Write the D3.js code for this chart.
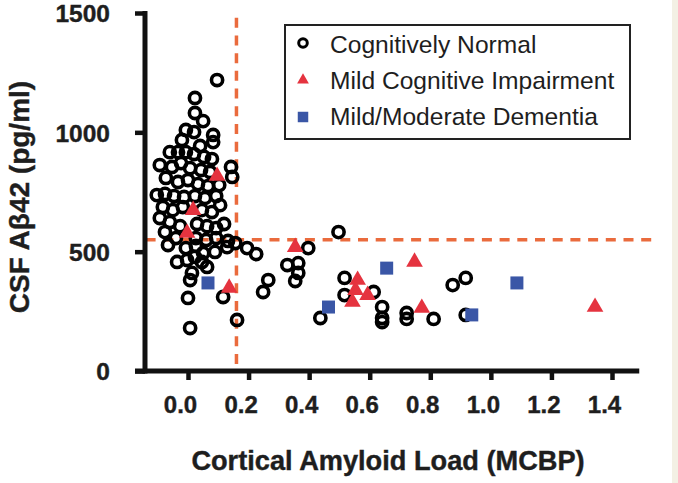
<!DOCTYPE html>
<html>
<head>
<meta charset="utf-8">
<script src="https://cdn.jsdelivr.net/npm/d3@7"></script>
<style>
  html, body { margin: 0; padding: 0; background: #ffffff; }
  svg { display: block; font-family: "Liberation Sans", Arial, sans-serif; }
</style>
</head>
<body>
<svg id="chart" width="678" height="483"></svg>
<script>
// ---- data ----
const xTicks = [0.0, 0.2, 0.4, 0.6, 0.8, 1.0, 1.2, 1.4];
const yTicks = [0, 500, 1000, 1500];
const legendLabels = ["Cognitively Normal", "Mild Cognitive Impairment", "Mild/Moderate Dementia"];
const cutoffX = 0.16;
const cutoffY = 550;

// Cognitively Normal: [MCBP, CSF Abeta42]
const normalX = [0.096,0.023,0.023,0.050,-0.007,0.020,0.083,0.083,-0.020,-0.060,-0.033,-0.007,0.020,0.053,0.079,0.142,0.146,0.040,
  -0.093,-0.053,-0.023,0.007,0.043,0.073,-0.073,-0.033,0.000,0.033,0.066,0.103,-0.103,-0.076,-0.046,-0.013,0.023,0.056,0.093,
  -0.083,-0.050,-0.017,0.046,0.079,0.106,-0.060,-0.026,0.030,0.063,0.093,0.119,-0.040,0.026,0.060,0.093,0.132,0.195,0.225,
  -0.036,-0.003,0.023,0.046,0.063,0.050,0.089,0.129,0.156,0.013,0.007,0.000,0.116,0.162,0.007,-0.076,-0.093,
  -0.066,-0.007,0.026,
  0.265,0.248,0.328,0.364,0.364,0.354,0.397,0.497,0.437,0.517,0.517,0.613,0.641,0.641,0.641,0.722,0.722,0.811,0.874,0.917,0.917];
const normalY = [1219,1144,1081,1047,1010,1001,989,959,968,917,917,917,909,897,888,855,813,943,
  863,855,871,850,842,834,809,792,800,783,775,779,737,742,733,729,733,725,733,
  687,674,687,674,666,695,624,607,616,607,599,616,557,557,549,557,545,515,490,
  457,465,478,457,436,494,499,519,536,411,381,306,310,214,180,582,641,
  528,515,524,
  381,331,444,452,411,377,515,582,222,390,318,331,268,222,205,243,218,218,360,390,235];

// Mild Cognitive Impairment
const mciX = [0.096,0.017,-0.003,0.136,0.354,0.560,0.553,0.543,0.593,0.748,0.772,1.344];
const mciY = [817,674,578,348,519,381,339,289,318,457,264,268];

// Mild/Moderate Dementia
const demX = [0.066,0.464,0.656,0.937,1.086];
const demY = [369,268,431,235,369];

// ---- drawing ----
const svg = d3.select("#chart");
const W = 678, H = 483;
svg.append("rect").attr("width", W).attr("height", H).attr("fill", "#ffffff");
svg.append("rect").attr("x", 672).attr("y", 0).attr("width", 6).attr("height", H).attr("fill", "#f3f0e4");

const x = d3.scaleLinear().domain([0, 1.4]).range([188, 612]);
const y = d3.scaleLinear().domain([0, 1500]).range([371, 13]);

const axisColor = "#111";
const textColor = "#1e1e1e";
const dashColor = "#ea6b3d";
const red = "#e5333f";
const blue = "#3a56a6";

// dashed cutoff lines
svg.append("line")
  .attr("x1", x(-0.14)).attr("x2", x(1.543))
  .attr("y1", y(cutoffY)).attr("y2", y(cutoffY))
  .attr("stroke", dashColor).attr("stroke-width", 3.5).attr("stroke-dasharray", "10,7.7");
svg.append("line")
  .attr("x1", x(cutoffX)).attr("x2", x(cutoffX))
  .attr("y1", y(1480)).attr("y2", y(0))
  .attr("stroke", dashColor).attr("stroke-width", 3.5).attr("stroke-dasharray", "10,7.7");

// axes
const yAxisX = x(-0.142);
const gy = svg.append("g").attr("transform", `translate(${yAxisX},0)`)
  .call(d3.axisLeft(y).tickValues(yTicks).tickSize(10).tickSizeOuter(0).tickPadding(25).tickFormat(d3.format("d")));
gy.select(".domain").remove();
gy.selectAll(".tick line").attr("stroke", axisColor).attr("stroke-width", 4.5);
gy.selectAll(".tick text").attr("font-size", 24.5).attr("font-weight", "bold").attr("fill", textColor)
  .attr("font-family", "Liberation Sans, Arial, sans-serif").attr("dy", "0.36em")
  .attr("stroke", textColor).attr("stroke-width", 0.4);
svg.append("line").attr("x1", yAxisX).attr("x2", yAxisX).attr("y1", y(1500) - 2).attr("y2", y(0) + 2.5)
  .attr("stroke", axisColor).attr("stroke-width", 5);

const gx = svg.append("g").attr("transform", `translate(0,${y(0)})`)
  .call(d3.axisBottom(x).tickValues(xTicks).tickSize(9).tickSizeOuter(0).tickFormat(d3.format(".1f")));
gx.select(".domain").remove();
gx.selectAll(".tick line").attr("stroke", axisColor).attr("stroke-width", 4.5);
gx.selectAll(".tick text").attr("font-size", 24).attr("font-weight", "bold").attr("fill", textColor)
  .attr("font-family", "Liberation Sans, Arial, sans-serif").attr("y", 42).attr("dy", 0).attr("dx", -8)
  .attr("stroke", textColor).attr("stroke-width", 0.4);
svg.append("line").attr("x1", yAxisX - 10).attr("x2", x(1.49)).attr("y1", y(0)).attr("y2", y(0))
  .attr("stroke", axisColor).attr("stroke-width", 5);

// axis titles
svg.append("text").attr("x", 388).attr("y", 470).attr("text-anchor", "middle")
  .attr("font-size", 27.2).attr("font-weight", "bold").attr("fill", textColor)
  .attr("stroke", textColor).attr("stroke-width", 0.4)
  .text("Cortical Amyloid Load (MCBP)");
svg.append("text").attr("transform", "translate(29,197) rotate(-90)").attr("text-anchor", "middle")
  .attr("font-size", 28).attr("font-weight", "bold").attr("fill", textColor)
  .attr("stroke", textColor).attr("stroke-width", 0.4)
  .text("CSF Aβ42 (pg/ml)");

// markers
const normal = normalX.map((v, i) => ({ x: v, y: normalY[i] }));
const mci = mciX.map((v, i) => ({ x: v, y: mciY[i] }));
const dem = demX.map((v, i) => ({ x: v, y: demY[i] }));

svg.append("g").selectAll("circle").data(normal).join("circle")
  .attr("cx", d => x(d.x)).attr("cy", d => y(d.y)).attr("r", 5.6)
  .attr("fill", "none").attr("stroke", "#000").attr("stroke-width", 3.6);

const tri = d3.symbol().type(d3.symbolTriangle).size(120);
svg.append("g").selectAll("path").data(mci).join("path")
  .attr("d", tri).attr("transform", d => `translate(${x(d.x)},${y(d.y)})`).attr("fill", red);

const sq = d3.symbol().type(d3.symbolSquare).size(169);
svg.append("g").selectAll("path").data(dem).join("path")
  .attr("d", sq).attr("transform", d => `translate(${x(d.x)},${y(d.y)})`).attr("fill", blue);

// legend
const lg = svg.append("g");
lg.append("rect").attr("x", 285).attr("y", 25).attr("width", 345).attr("height", 114)
  .attr("fill", "#fff").attr("stroke", "#222").attr("stroke-width", 2);
const rowsY = [53, 89, 125];
lg.append("circle").attr("cx", 303).attr("cy", 43).attr("r", 4.3).attr("fill", "none").attr("stroke", "#000").attr("stroke-width", 3);
lg.append("path").attr("d", d3.symbol().type(d3.symbolTriangle).size(60)).attr("transform", "translate(303,80)").attr("fill", red);
lg.append("path").attr("d", d3.symbol().type(d3.symbolSquare).size(110)).attr("transform", "translate(303,117)").attr("fill", blue);
lg.selectAll("text.lab").data(legendLabels).join("text").attr("class", "lab")
  .attr("x", 330).attr("y", (d, i) => rowsY[i]).attr("font-size", 24.6).attr("fill", textColor).text(d => d);
</script>
</body>
</html>
